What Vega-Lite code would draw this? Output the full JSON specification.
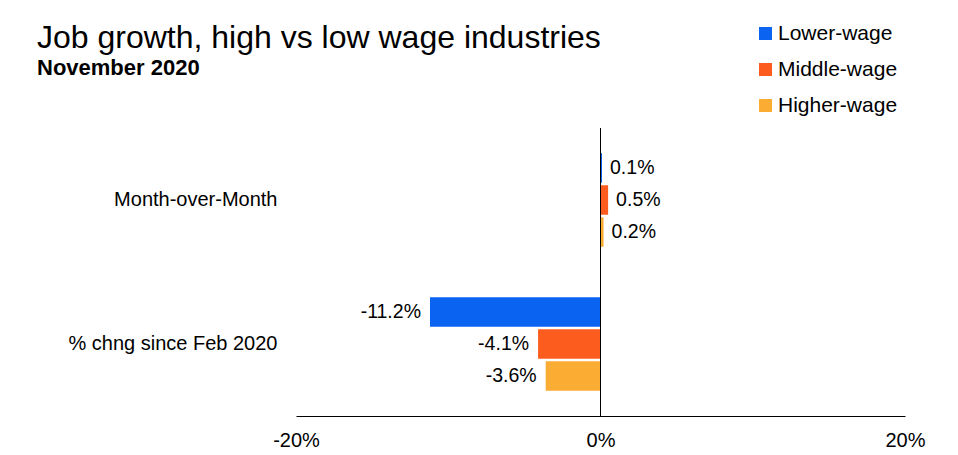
{
  "$schema": "https://vega.github.io/schema/vega-lite/v6.json",
  "autosize": "none",
  "width": 609,
  "height": 288,
  "padding": {"left": 296, "top": 128, "right": 53, "bottom": 39},
  "background": "white",
  "config": {
    "view": {"stroke": null},
    "font": "Liberation Sans",
    "locale": {"number": {"decimal": ".", "thousands": ",", "grouping": [3], "currency": ["$", ""], "minus": "-"}}
  },
  "title": {
    "text": "Job growth, high vs low wage industries",
    "subtitle": "November 2020",
    "anchor": "start",
    "frame": "group",
    "dx": -259,
    "dy": 57,
    "fontSize": 32,
    "fontWeight": "normal",
    "color": "#000000",
    "subtitleFontSize": 22,
    "subtitleFontWeight": "bold",
    "subtitleColor": "#000000",
    "subtitlePadding": 3,
    "offset": 0
  },
  "data": {
    "values": [
      {"measure": "Month-over-Month", "group": "Lower-wage", "value": 0.001},
      {"measure": "Month-over-Month", "group": "Middle-wage", "value": 0.005},
      {"measure": "Month-over-Month", "group": "Higher-wage", "value": 0.002},
      {"measure": "% chng since Feb 2020", "group": "Lower-wage", "value": -0.112},
      {"measure": "% chng since Feb 2020", "group": "Middle-wage", "value": -0.041},
      {"measure": "% chng since Feb 2020", "group": "Higher-wage", "value": -0.036}
    ]
  },
  "encoding": {
    "y": {
      "field": "measure",
      "type": "nominal",
      "sort": ["Month-over-Month", "% chng since Feb 2020"],
      "scale": {"paddingInner": 0.35, "paddingOuter": 0.175},
      "axis": {"title": null, "domain": false, "ticks": false, "labelFontSize": 20, "labelPadding": 19, "labelColor": "#000000", "labelLimit": 400}
    },
    "yOffset": {
      "field": "group",
      "type": "nominal",
      "sort": ["Lower-wage", "Middle-wage", "Higher-wage"],
      "scale": {"paddingInner": 0.08}
    },
    "x": {
      "field": "value",
      "type": "quantitative",
      "scale": {"domain": [-0.2, 0.2], "nice": false, "zero": false},
      "axis": {"title": null, "format": ".0%", "values": [-0.2, 0, 0.2], "grid": false, "ticks": false, "domain": true, "domainColor": "#000000", "domainWidth": 1, "labelFontSize": 20, "labelPadding": 14, "labelColor": "#000000", "labelFlush": false}
    }
  },
  "layer": [
    {
      "mark": {"type": "bar"},
      "encoding": {
        "color": {
          "field": "group",
          "type": "nominal",
          "scale": {"domain": ["Lower-wage", "Middle-wage", "Higher-wage"], "range": ["#0B63F2", "#FC5C1E", "#FBAC32"]},
          "legend": {
            "title": null,
            "orient": "none",
            "legendX": 459,
            "legendY": -105,
            "symbolType": "square",
            "symbolSize": 169,
            "symbolStrokeWidth": 0,
            "labelFontSize": 21,
            "labelColor": "#000000",
            "labelOffset": 2,
            "rowPadding": 14
          }
        }
      }
    },
    {
      "transform": [{"filter": "datum.value >= 0"}],
      "mark": {"type": "text", "align": "left", "baseline": "middle", "dx": 8, "fontSize": 19.5, "color": "#000000"},
      "encoding": {"text": {"field": "value", "type": "quantitative", "format": ".1%"}}
    },
    {
      "transform": [{"filter": "datum.value < 0"}],
      "mark": {"type": "text", "align": "right", "baseline": "middle", "dx": -9, "fontSize": 19.5, "color": "#000000"},
      "encoding": {"text": {"field": "value", "type": "quantitative", "format": ".1%"}}
    },
    {
      "mark": {"type": "rule", "color": "#000000", "strokeWidth": 1},
      "encoding": {"x": {"datum": 0}, "y": null, "yOffset": null}
    }
  ]
}
